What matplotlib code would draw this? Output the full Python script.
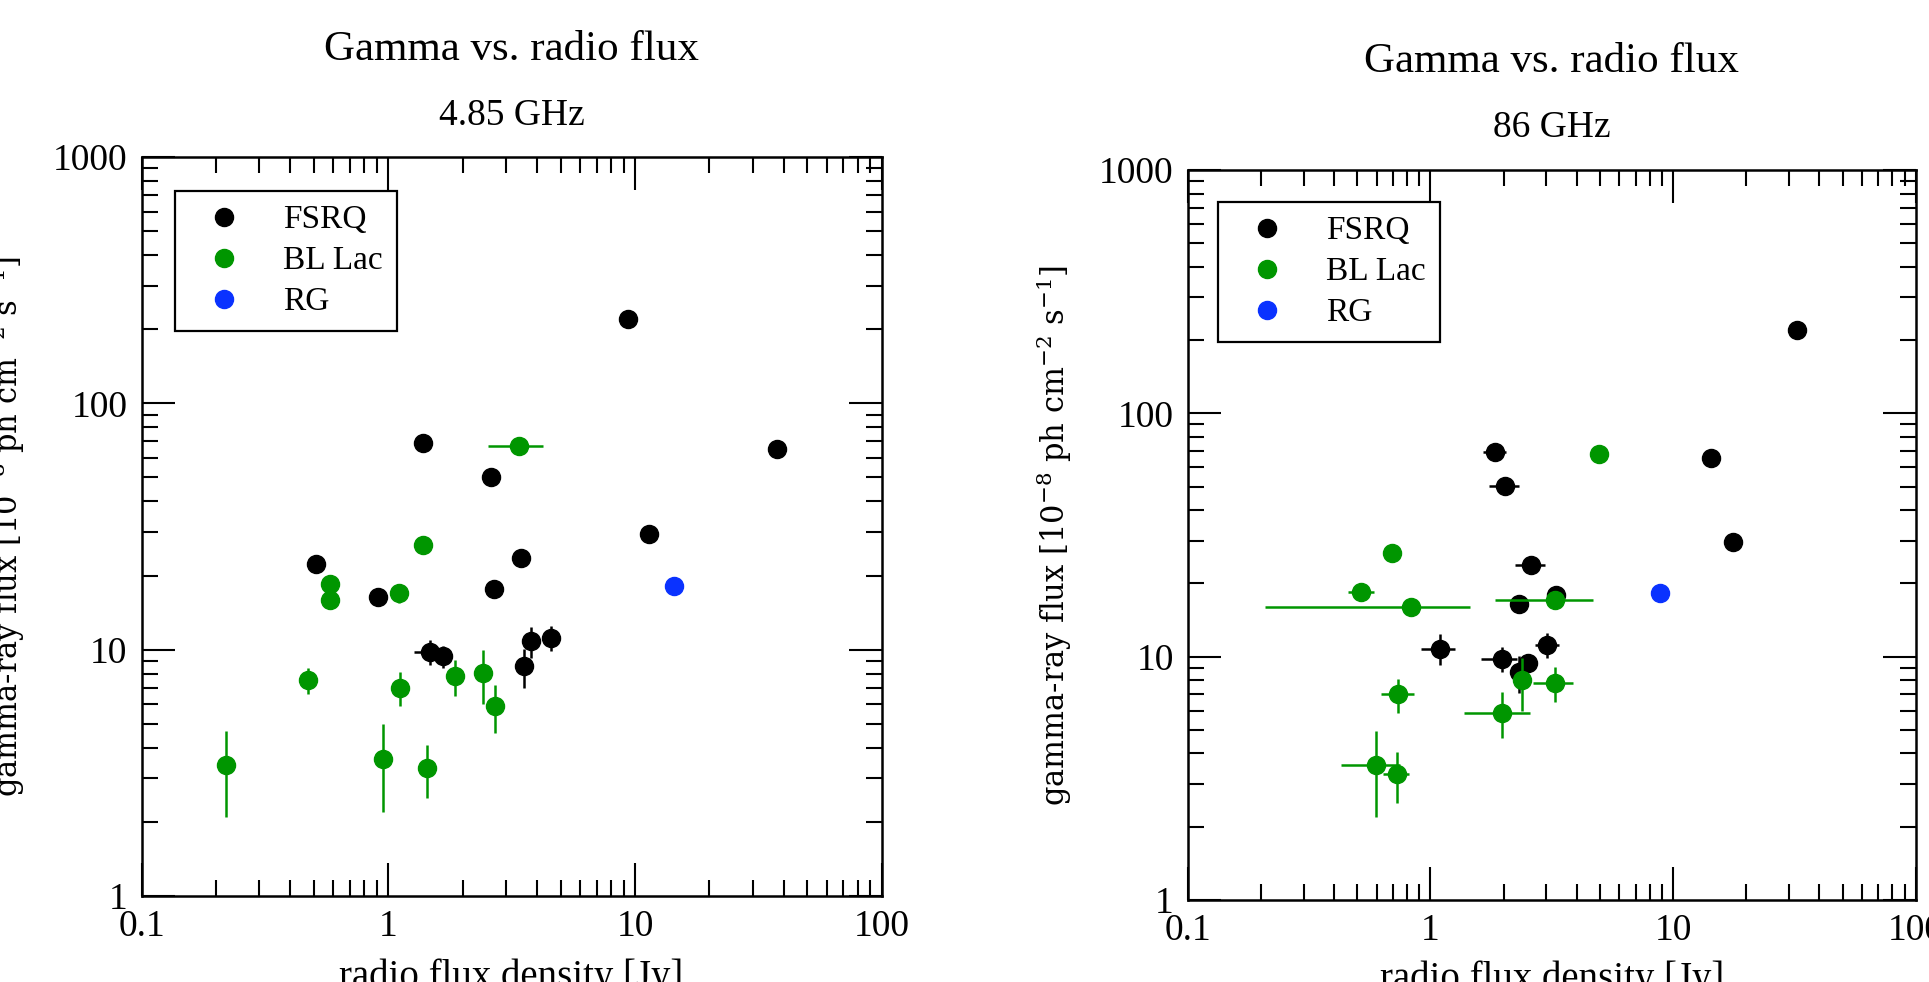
import numpy as np
import matplotlib
matplotlib.use('Agg')
import matplotlib.pyplot as plt

plt.rcParams['font.family'] = 'Liberation Serif'
plt.rcParams['mathtext.fontset'] = 'dejavuserif'

# ---- 4.85 GHz panel ----
# FSRQ: radio flux [Jy], gamma flux [1e-8 ph cm^-2 s^-1], errors (minus, plus)
f5_x = [1.38, 2.60, 0.511, 3.46, 0.913, 2.68, 1.48, 1.67, 3.80, 4.55, 3.55, 9.35, 11.4, 37.6]
f5_y = [69.2, 50.4, 22.2, 23.6, 16.4, 17.6, 9.82, 9.43, 10.8, 11.2, 8.61, 219, 29.6, 65.1]
f5_xm = [0, 0, 0, 0, 0, 0, 0.205, 0, 0, 0, 0, 0, 0, 0]
f5_xp = [0, 0, 0, 0, 0, 0, 0.12, 0, 0, 0, 0, 0, 0, 0]
f5_ym = [0, 0, 0, 0, 0, 0, 1.15, 1.03, 1.57, 1.3, 1.6, 0, 0, 0]
f5_yp = [0, 0, 0, 0, 0, 0, 1.13, 0.92, 1.6, 1.3, 1.49, 0, 0, 0]

b5_x = [3.40, 1.38, 0.579, 0.580, 1.11, 0.475, 1.12, 1.87, 2.43, 2.71, 0.2206, 0.953, 1.43]
b5_y = [67.3, 26.6, 18.5, 15.9, 17.0, 7.51, 7.01, 7.82, 8.02, 5.89, 3.41, 3.60, 3.31]
b5_xm = [0.86, 0, 0, 0, 0, 0, 0, 0, 0, 0, 0, 0, 0]
b5_xp = [0.84, 0, 0, 0, 0, 0, 0, 0, 0, 0, 0, 0, 0]
b5_ym = [0, 0, 0, 0, 1.5, 0.92, 1.1, 1.31, 2.02, 1.29, 1.31, 1.40, 0.80]
b5_yp = [0, 0, 0, 0, 1.0, 0.89, 1.11, 1.27, 1.95, 1.30, 1.28, 1.39, 0.79]

r5_x = [14.4]
r5_y = [18.2]

# ---- 86 GHz panel ----
f86_x = [1.84, 2.03, 2.60, 2.31, 3.29, 1.09, 1.98, 2.52, 2.32, 3.03, 32.3, 14.3, 17.6]
f86_y = [69.2, 50.5, 23.7, 16.5, 17.9, 10.8, 9.78, 9.44, 8.67, 11.2, 220, 65.4, 29.7]
f86_xm = [0.19, 0.28, 0.36, 0, 0, 0.172, 0.37, 0, 0, 0.34, 0, 0, 0]
f86_xp = [0.21, 0.29, 0.35, 0, 0, 0.17, 0.3, 0, 0, 0.37, 0, 0, 0]
f86_ym = [0, 0, 0, 0, 0, 1.55, 1.16, 0, 1.6, 1.3, 0, 0, 0]
f86_yp = [0, 0, 0, 0, 0, 1.6, 1.22, 0, 1.39, 1.3, 0, 0, 0]

b86_x = [4.96, 0.696, 0.517, 0.833, 3.27, 2.38, 3.25, 1.97, 0.736, 0.598, 0.725]
b86_y = [67.9, 26.6, 18.5, 16.0, 17.1, 8.02, 7.82, 5.89, 7.0, 3.60, 3.30]
b86_xm = [0, 0, 0.06, 0.624, 1.42, 0, 0.60, 0.59, 0.113, 0.169, 0.086]
b86_xp = [0, 0, 0.068, 0.627, 1.40, 0, 0.62, 0.59, 0.118, 0.154, 0.092]
b86_ym = [0, 0, 0, 0, 0.6, 2.04, 1.32, 1.27, 1.11, 1.40, 0.79]
b86_yp = [0, 0, 0, 0, 0.6, 1.88, 1.28, 1.29, 1.07, 1.36, 0.77]

r86_x = [8.78]
r86_y = [18.2]

xticks = [0.1, 1, 10, 100]
xticklabels = ['0.1', '1', '10', '100']
yticks = [1, 10, 100, 1000]
yticklabels = ['1', '10', '100', '1000']

green = '#009600'
blue = '#0a32ff'
W, H = 1929, 982

fig = plt.figure(figsize=(W / 100, H / 100), dpi=100)


def panel(rect, series, legend_xy):
    ax = fig.add_axes(rect)
    ax.set_xscale('log')
    ax.set_yscale('log')
    for x, y, xm, xp, ym, yp, col, lab in series:
        if xm is not None:
            ax.errorbar(x, y, xerr=[xm, xp], yerr=[ym, yp], fmt='none',
                        ecolor=col, elinewidth=1.8, capsize=0)
        ax.plot(x, y, 'o', color=col, markersize=13, label=lab, linestyle='none')
    ax.set_xlim(0.1, 100)
    ax.set_ylim(1, 1000)
    ax.set_xticks(xticks)
    ax.set_xticklabels(xticklabels)
    ax.set_yticks(yticks)
    ax.set_yticklabels(yticklabels)
    ax.tick_params(which='both', direction='in', top=True, right=True, width=1.5)
    ax.tick_params(which='major', length=24, labelsize=27, pad=10)
    ax.tick_params(which='minor', length=11.5)
    for s in ax.spines.values():
        s.set_linewidth(1.8)
    leg = ax.legend(loc='upper left', bbox_to_anchor=legend_xy, borderaxespad=0,
                    fontsize=24, numpoints=1, fancybox=False, framealpha=1,
                    edgecolor='black', borderpad=0.415, handlelength=2.08,
                    handletextpad=0.75, labelspacing=0.315)
    leg.get_frame().set_linewidth(1.6)
    return ax


# pixel geometry of the two plot frames
L = dict(x0=141.5, x1=881.7, y0=157, y1=896)
R = dict(x0=1187.7, x1=1916, y0=170, y1=900)

for P, data, leg_px, titles, ylab_x, xlab_y in [
    (L,
     [(f5_x, f5_y, f5_xm, f5_xp, f5_ym, f5_yp, 'black', 'FSRQ'),
      (b5_x, b5_y, b5_xm, b5_xp, b5_ym, b5_yp, green, 'BL Lac'),
      (r5_x, r5_y, None, None, None, None, blue, 'RG')],
     (175, 191), ('4.85 GHz', 60, 125), 27.5, 958),
    (R,
     [(f86_x, f86_y, f86_xm, f86_xp, f86_ym, f86_yp, 'black', 'FSRQ'),
      (b86_x, b86_y, b86_xm, b86_xp, b86_ym, b86_yp, green, 'BL Lac'),
      (r86_x, r86_y, None, None, None, None, blue, 'RG')],
     (1218, 202), ('86 GHz', 71.7, 136.7), 1074, 960),
]:
    rect = [P['x0'] / W, 1 - P['y1'] / H, (P['x1'] - P['x0']) / W, (P['y1'] - P['y0']) / H]
    lx = (leg_px[0] - P['x0']) / (P['x1'] - P['x0'])
    ly = (P['y1'] - leg_px[1]) / (P['y1'] - P['y0'])
    ax = panel(rect, data, (lx, ly))
    cx = (P['x0'] + P['x1']) / 2 / W
    fig.text(cx, 1 - titles[1] / H, 'Gamma vs. radio flux', ha='center', va='baseline', fontsize=31)
    fig.text(cx, 1 - titles[2] / H, titles[0], ha='center', va='baseline', fontsize=27)
    fig.text(cx, 1 - xlab_y / H, 'radio flux density [Jy]', ha='center', va='top', fontsize=28)
    fig.text(ylab_x / W, 1 - (P['y0'] + P['y1']) / 2 / H,
             'gamma-ray flux [10$^{-8}$ ph cm$^{-2}$ s$^{-1}$]',
             rotation=90, ha='right', va='center', fontsize=22, family='DejaVu Serif')

fig.savefig('out.png', dpi=100)
